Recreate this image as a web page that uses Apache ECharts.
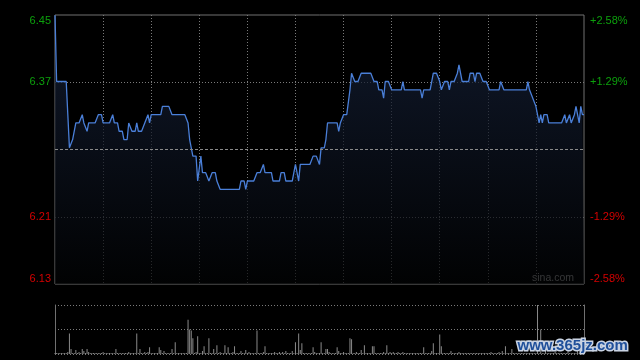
<!DOCTYPE html>
<html><head><meta charset="utf-8">
<script src="https://cdn.jsdelivr.net/npm/echarts@6/dist/echarts.min.js"></script>
<style>html,body{margin:0;padding:0;background:#000;}#c{width:640px;height:360px;}</style>
</head><body><div id="c"></div>
<script>
// previous close (reference level for the percent axis)
const prevClose = 6.288;
// one price per trading minute: 09:30-12:00, 13:01-16:00
const prices = [
6.45,6.37,6.37,6.37,6.37,6.37,6.37,6.37,6.33,6.29,
6.29,6.30,6.30,6.32,6.32,6.32,6.32,6.33,6.32,6.32,
6.31,6.32,6.32,6.32,6.32,6.32,6.32,6.33,6.33,6.33,
6.32,6.32,6.32,6.32,6.32,6.32,6.33,6.32,6.32,6.32,
6.31,6.31,6.31,6.30,6.30,6.30,6.32,6.32,6.31,6.31,
6.31,6.32,6.31,6.31,6.31,6.31,6.32,6.32,6.33,6.32,
6.33,6.33,6.33,6.33,6.33,6.33,6.33,6.34,6.34,6.34,
6.34,6.34,6.34,6.33,6.33,6.33,6.33,6.33,6.33,6.33,
6.33,6.33,6.33,6.32,6.30,6.29,6.28,6.28,6.28,6.25,
6.25,6.28,6.26,6.26,6.26,6.26,6.25,6.25,6.26,6.26,
6.26,6.25,6.25,6.24,6.24,6.24,6.24,6.24,6.24,6.24,
6.24,6.24,6.24,6.24,6.24,6.24,6.25,6.25,6.25,6.24,
6.25,6.25,6.25,6.25,6.25,6.25,6.26,6.26,6.26,6.26,
6.27,6.26,6.26,6.26,6.26,6.26,6.25,6.25,6.25,6.25,
6.25,6.26,6.26,6.26,6.25,6.25,6.25,6.25,6.25,6.26,
6.27,6.27,6.25,6.27,6.27,6.27,6.27,6.27,6.27,6.27,
6.27,6.28,6.28,6.28,6.28,6.27,6.29,6.29,6.29,6.30,
6.32,6.32,6.32,6.32,6.32,6.32,6.32,6.31,6.32,6.32,
6.33,6.33,6.33,6.33,6.36,6.38,6.38,6.37,6.37,6.37,
6.37,6.38,6.38,6.38,6.38,6.38,6.38,6.38,6.38,6.37,
6.37,6.37,6.36,6.36,6.36,6.35,6.37,6.37,6.37,6.37,
6.36,6.36,6.36,6.36,6.36,6.36,6.36,6.37,6.36,6.36,
6.36,6.36,6.36,6.36,6.36,6.36,6.36,6.36,6.36,6.35,
6.36,6.36,6.36,6.36,6.36,6.37,6.38,6.38,6.38,6.38,
6.37,6.36,6.36,6.37,6.37,6.37,6.36,6.37,6.37,6.37,
6.37,6.38,6.39,6.39,6.37,6.37,6.37,6.37,6.37,6.38,
6.38,6.38,6.37,6.38,6.38,6.38,6.38,6.37,6.37,6.37,
6.37,6.36,6.36,6.36,6.36,6.36,6.36,6.36,6.37,6.37,
6.36,6.36,6.36,6.36,6.36,6.36,6.36,6.36,6.36,6.36,
6.36,6.36,6.36,6.36,6.36,6.37,6.36,6.36,6.35,6.35,
6.34,6.33,6.32,6.33,6.32,6.33,6.33,6.33,6.32,6.32,
6.32,6.32,6.32,6.32,6.32,6.32,6.32,6.32,6.33,6.32,
6.32,6.33,6.32,6.32,6.33,6.34,6.34,6.32,6.34,6.33,
6.33
];
// volume per minute (relative units, panel top = 50)
const volumes = [
1,1,1,1,1,1,1,1,2,21,
5,1,1,4,1,2,1,5,3,1,
5,2,1,1,1,1,1,1,1,1,
2,1,1,1,1,1,1,1,5,1,
1,1,1,1,1,1,2,1,1,1,
1,21,1,5,1,1,2,1,2,7,
1,1,1,1,1,7,4,1,3,1,
1,1,1,5,1,12,1,1,1,1,
1,1,1,35,25,24,16,1,2,18,
1,1,3,8,1,1,16,1,1,5,
1,9,1,2,1,1,9,1,7,1,
1,2,8,1,1,1,3,1,1,4,
1,2,1,1,1,1,24,1,1,1,
2,8,1,1,1,1,1,2,1,1,
2,1,2,1,3,1,1,1,3,1,
12,1,21,4,11,1,1,1,1,1,
1,7,2,1,1,1,12,1,1,5,
5,2,1,1,1,1,7,3,1,1,
2,1,1,1,16,15,1,1,2,1,
1,4,1,9,1,1,1,1,8,8,
1,1,1,1,1,2,1,9,1,2,
1,2,1,1,2,1,1,2,1,1,
1,1,1,1,1,1,1,1,1,1,
7,1,1,1,1,3,11,1,1,1,
20,8,1,1,1,1,1,3,1,1,
1,1,2,1,1,1,1,1,1,1,
1,1,1,1,1,1,1,1,1,1,
1,1,2,1,1,1,1,2,1,3,
1,8,1,1,1,5,1,1,1,1,
1,1,1,1,1,1,1,1,1,1,
1,50,1,25,1,1,3,1,1,1,
1,1,2,1,1,1,1,1,1,1,
4,1,1,1,1,1,3,1,1,1,
2
];
const leftTickLabels = ['6.13', '6.21', '', '6.37', '6.45'];
const rightTickLabels = ['-2.58%', '-1.29%', '', '+1.29%', '+2.58%'];
const pctMax = 2.58, pctStep = 1.29;

const times = [];
for (let m = 0; m <= 150; m++) {
  const t = 9 * 60 + 30 + m;
  times.push(String(Math.floor(t / 60)).padStart(2, '0') + ':' + String(t % 60).padStart(2, '0'));
}
for (let m = 1; m <= 180; m++) {
  const t = 13 * 60 + m;
  times.push(String(Math.floor(t / 60)).padStart(2, '0') + ':' + String(t % 60).padStart(2, '0'));
}
const pctData = prices.map(p => +((p / prevClose - 1) * 100).toFixed(4));

const GREEN = '#0ca00c', RED = '#d40000';
const richL = {
  u0: { color: GREEN, fontSize: 11, padding: [11, 0, 0, 0] },
  u1: { color: GREEN, fontSize: 11 },
  d1: { color: RED, fontSize: 11 },
  d0: { color: RED, fontSize: 11, padding: [0, 0, 11, 0] }
};
const styleKeys = ['d0', 'd1', '', 'u1', 'u0'];
function fmt(labels) {
  return function (v, idx) {
    const k = styleKeys[idx];
    if (!k || !labels[idx]) return '';
    return '{' + k + '|' + labels[idx] + '}';
  };
}

const chart = echarts.init(document.getElementById('c'));
chart.setOption({
  backgroundColor: '#000',
  animation: false,
  textStyle: { fontFamily: 'Liberation Sans, Arial, sans-serif' },
  grid: [
    { left: 55, right: 56, top: 15, height: 269, show: true, borderColor: '#707070', borderWidth: 1, backgroundColor: 'transparent' },
    { left: 55, right: 56, top: 305, height: 49, show: false }
  ],
  xAxis: [
    {
      type: 'category', gridIndex: 0, data: times, boundaryGap: false,
      axisLine: { show: false }, axisTick: { show: false }, axisLabel: { show: false },
      splitLine: { show: true, interval: (i) => i % 30 === 0 && i > 0 && i < 330, lineStyle: { color: '#7a7a7a', type: [1, 2], width: 1 } }
    },
    {
      type: 'category', gridIndex: 1, data: times, boundaryGap: false,
      axisLine: { show: false }, axisTick: { show: false }, axisLabel: { show: false }, splitLine: { show: false }
    }
  ],
  yAxis: [
    {
      type: 'value', gridIndex: 0, min: -pctMax, max: pctMax, interval: pctStep, position: 'left',
      axisLine: { show: false }, axisTick: { show: false },
      axisLabel: { margin: 4, formatter: fmt(leftTickLabels), rich: richL, fontFamily: 'Liberation Sans, Arial, sans-serif' },
      splitLine: { show: true, lineStyle: { color: ['transparent', '#7a7a7a', 'transparent', '#7a7a7a', 'transparent'], type: [1, 2], width: 1 } }
    },
    {
      type: 'value', gridIndex: 0, min: -pctMax, max: pctMax, interval: pctStep, position: 'right',
      axisLine: { show: false }, axisTick: { show: false },
      axisLabel: { margin: 6, formatter: fmt(rightTickLabels), rich: richL, fontFamily: 'Liberation Sans, Arial, sans-serif' },
      splitLine: { show: false }
    },
    {
      type: 'value', gridIndex: 1, min: 0, max: 50, interval: 25, position: 'left',
      axisLine: { show: true, lineStyle: { color: '#707070', width: 1 } }, axisTick: { show: false }, axisLabel: { show: false },
      splitLine: { show: true, lineStyle: { color: '#7a7a7a', type: [1, 2], width: 1 } }
    },
    {
      type: 'value', gridIndex: 1, min: 0, max: 50, interval: 25, position: 'right',
      axisLine: { show: true, lineStyle: { color: '#707070', width: 1 } }, axisTick: { show: false }, axisLabel: { show: false },
      splitLine: { show: false }
    }
  ],
  series: [
    {
      type: 'line', xAxisIndex: 0, yAxisIndex: 0, data: pctData, symbol: 'none', silent: true,
      lineStyle: { color: '#4a7fd8', width: 1.3 },
      areaStyle: {
        origin: 'start',
        color: new echarts.graphic.LinearGradient(0, 0, 0, 1, [
          { offset: 0, color: '#17233d' },
          { offset: 1, color: '#020304' }
        ])
      },
      markLine: {
        silent: true, symbol: 'none', label: { show: false },
        lineStyle: { color: '#8a8a8a', type: [3, 2], width: 1 },
        data: [{ yAxis: 0 }]
      },
      z: 3
    },
    {
      type: 'bar', xAxisIndex: 1, yAxisIndex: 2, data: volumes, barWidth: 1, silent: true,
      itemStyle: { color: '#8a8a8a' }
    }
  ],
  graphic: [
    { type: 'text', left: 532, top: 273, silent: true,
      style: { text: 'sina.com', fill: '#a8a8a8', fontSize: 10.5, fontFamily: 'Liberation Sans, Arial, sans-serif' } },
    { type: 'text', left: 516, top: 337, silent: true, z: 100,
      style: { text: 'www.365jz.com', fill: '#1f4f9a', stroke: '#c9d3e3', lineWidth: 3, fontSize: 15, fontWeight: 'bold', fontFamily: 'Liberation Sans, Arial, sans-serif' } }
  ]
});
</script>
</body></html>
